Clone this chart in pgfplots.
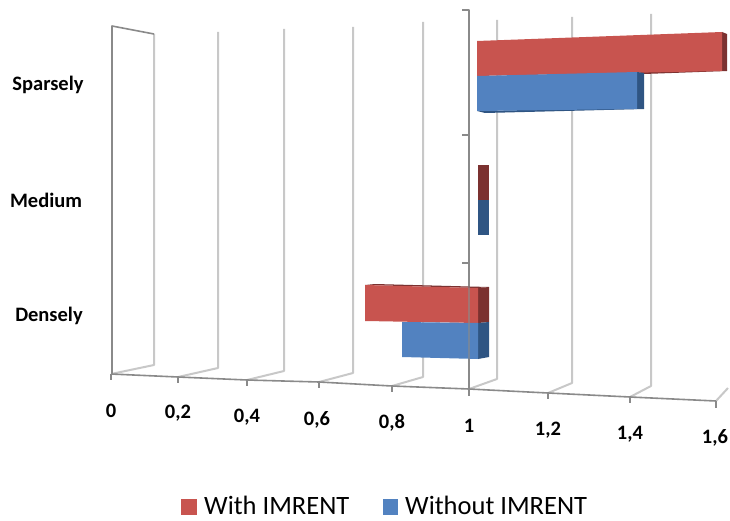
\documentclass[border=0pt]{standalone}
\usepackage{pgfplots}
\pgfplotsset{compat=1.18}
\usepackage{fontspec}
\setmainfont{Carlito}
\definecolor{redF}{HTML}{C8544F}
\definecolor{redD}{HTML}{7B3130}
\definecolor{bluF}{HTML}{5282C0}
\definecolor{bluD}{HTML}{2F5583}
\definecolor{gridc}{HTML}{C8C8C8}
\definecolor{axc}{HTML}{8A8A8A}
\begin{document}
\begin{tikzpicture}
\path[use as bounding box] (0,0) rectangle (730pt,521pt);
\begin{axis}[
  at={(0,0)},anchor=south west,
  scale only axis,width=730pt,height=521pt,
  xmin=0,xmax=730,ymin=0,ymax=521,y dir=reverse,
  hide axis,clip=false,
  every axis plot/.append style={line join=round,forget plot},
]
% back wall gridlines: front foot, back foot, back top
\addplot[gridc,line width=2pt] coordinates {(154,34)(154,365)(111,374)};
\addplot[axc,line width=1.6pt] coordinates {(154,34)(112,26)(112,374)};
\addplot[gridc,line width=2pt] coordinates {(218,32)(218,368)(178,377)};
\addplot[gridc,line width=2pt] coordinates {(284,29)(284,371)(247,380)};
\addplot[gridc,line width=2pt] coordinates {(353,27)(353,373)(319,382)};
\addplot[gridc,line width=2pt] coordinates {(423,22)(423,377)(392,386)};
\addplot[gridc,line width=2pt] coordinates {(497,20)(497,379)(469,389)};
\addplot[gridc,line width=2pt] coordinates {(572,17)(572,383)(548,393)};
\addplot[gridc,line width=2pt] coordinates {(651,14)(651,386)(630,397)};
\addplot[gridc,line width=2pt] coordinates {(716,401)(728,388)};
% value axis and ticks
\addplot[axc,line width=1.6pt] coordinates {(111,374)(178,377)(247,380)(319,382)(392,386)(469,389)(548,393)(630,397)(716,401)};
\addplot[axc,line width=1.4pt] coordinates {(111,374)(111,380)};
\addplot[axc,line width=1.4pt] coordinates {(178,377)(178,383)};
\addplot[axc,line width=1.4pt] coordinates {(247,380)(247,386)};
\addplot[axc,line width=1.4pt] coordinates {(319,382)(319,388)};
\addplot[axc,line width=1.4pt] coordinates {(392,386)(392,392)};
\addplot[axc,line width=1.4pt] coordinates {(469,389)(469,396)};
\addplot[axc,line width=1.4pt] coordinates {(548,393)(548,399)};
\addplot[axc,line width=1.4pt] coordinates {(630,397)(630,403)};
\addplot[axc,line width=1.4pt] coordinates {(716,401)(716,408)};
% category axis
\addplot[axc,line width=1.8pt] coordinates {(462,10)(469,10)(469,389)};
\addplot[axc,line width=1.6pt] coordinates {(462,135)(469,135)};
\addplot[axc,line width=1.6pt] coordinates {(462,263)(469,263)};
% Sparsely
\addplot[fill=redD,draw=none] coordinates {(722,32)(727,34)(727,71)(722,71)} -- cycle;
\addplot[fill=redD,draw=none] coordinates {(637,71)(722,69)(727,71)(644,74)} -- cycle;
\addplot[fill=redF,draw=none] coordinates {(477,41)(722,32)(722,71)(477,76)} -- cycle;
\addplot[fill=bluD,draw=none] coordinates {(637,72)(644,73)(644,109)(637,109)} -- cycle;
\addplot[fill=bluD,draw=none] coordinates {(477,111)(637,108)(644,109)(485,113)} -- cycle;
\addplot[fill=bluF,draw=none] coordinates {(477,76)(637,72)(637,109)(477,111)} -- cycle;
% Medium
\addplot[fill=redD,draw=none] coordinates {(478,165)(489,165)(489,200)(478,200)} -- cycle;
\addplot[fill=bluD,draw=none] coordinates {(478,200)(489,200)(489,235)(478,235)} -- cycle;
% Densely
\addplot[fill=redD,draw=none] coordinates {(365,285)(375,284)(489,287)(478,288)} -- cycle;
\addplot[fill=redD,draw=none] coordinates {(478,288)(489,287)(489,322)(478,323)} -- cycle;
\addplot[fill=redF,draw=none] coordinates {(365,285)(478,288)(478,323)(365,321)} -- cycle;
\addplot[fill=bluD,draw=none] coordinates {(478,323)(489,322)(489,357)(478,359)} -- cycle;
\addplot[fill=bluF,draw=none] coordinates {(402,322)(478,323)(478,359)(402,357)} -- cycle;
\addplot[axc,line width=1.4pt,opacity=.6] coordinates {(469,285)(469,359)};
% legend keys
\addplot[fill=redF,draw=none] coordinates {(181,499)(197,499)(197,515)(181,515)} -- cycle;
\addplot[fill=bluF,draw=none] coordinates {(383,499)(398,499)(398,515)(383,515)} -- cycle;
% labels
\node[font=\fontsize{20.5}{20.5}\selectfont\bfseries] at (axis cs:48,85) {Sparsely};
\node[font=\fontsize{20.5}{20.5}\selectfont\bfseries] at (axis cs:46,200) {Medium};
\node[font=\fontsize{20.5}{20.5}\selectfont\bfseries] at (axis cs:49,316) {Densely};
\node[font=\fontsize{20.5}{20.5}\selectfont\bfseries] at (axis cs:111,411) {0};
\node[font=\fontsize{20.5}{20.5}\selectfont\bfseries] at (axis cs:178,413) {0,2};
\node[font=\fontsize{20.5}{20.5}\selectfont\bfseries] at (axis cs:247,417) {0,4};
\node[font=\fontsize{20.5}{20.5}\selectfont\bfseries] at (axis cs:317,420) {0,6};
\node[font=\fontsize{20.5}{20.5}\selectfont\bfseries] at (axis cs:392,423) {0,8};
\node[font=\fontsize{20.5}{20.5}\selectfont\bfseries] at (axis cs:469,426) {1};
\node[font=\fontsize{20.5}{20.5}\selectfont\bfseries] at (axis cs:548,430) {1,2};
\node[font=\fontsize{20.5}{20.5}\selectfont\bfseries] at (axis cs:630,434) {1,4};
\node[font=\fontsize{20.5}{20.5}\selectfont\bfseries] at (axis cs:715,438) {1,6};
\node[font=\fontsize{26.5}{26.5}\selectfont,anchor=west,inner sep=0pt] at (axis cs:204,505.5) {With IMRENT};
\node[font=\fontsize{26.5}{26.5}\selectfont,anchor=west,inner sep=0pt] at (axis cs:405,505.5) {Without IMRENT};
\end{axis}
\end{tikzpicture}
\end{document}
